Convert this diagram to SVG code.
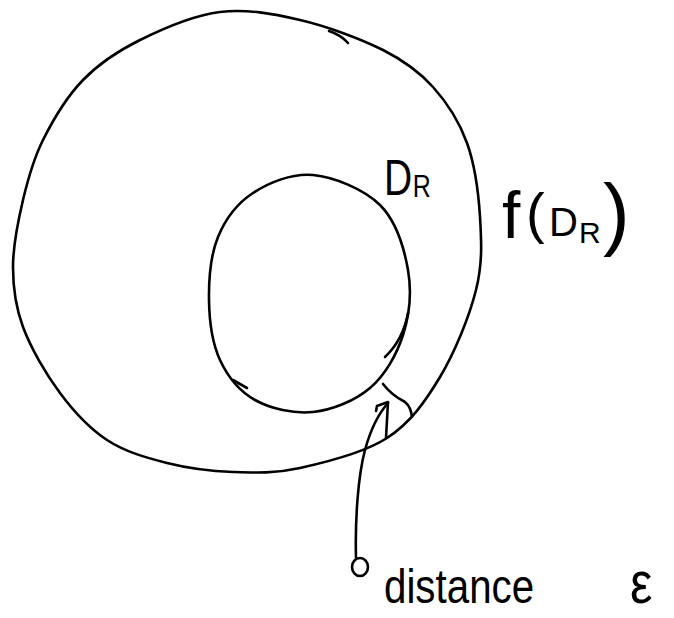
<svg xmlns="http://www.w3.org/2000/svg" width="674" height="618" viewBox="0 0 674 618">
<style>
.ln{fill:none;stroke:#000;stroke-width:2.6;stroke-linecap:round;stroke-linejoin:round}
.lbl{font-family:"Liberation Sans","DejaVu Sans",sans-serif;fill:#000}
</style>
<rect width="674" height="618" fill="#fff"/>
<g id="outer-region">
<path class="ln" d="M220,12 C246.7,8.7 272.8,13.7 300,20 C327.2,26.3 360.8,38.8 383,50 C405.2,61.2 419,71.5 433,87 C447,102.5 459.2,121.3 467,143 C474.8,164.7 478.5,192.5 480,217 C481.5,241.5 482.7,263.3 476,290 C469.3,316.7 454.8,352.3 440,377 C425.2,401.7 410.3,422.8 387,438 C363.7,453.2 325.7,462.3 300,468 C274.3,473.7 255.2,472.8 233,472 C210.8,471.2 188,468.3 167,463 C146,457.7 124.8,451.7 107,440 C89.2,428.3 74,411.8 60,393 C46,374.2 30.8,348 23,327 C15.2,306 13,288.2 13,267 C13,245.8 18,221.2 23,200 C28,178.8 33,160 43,140 C53,120 66.8,96.7 83,80 C99.2,63.3 117.2,51.3 140,40 C162.8,28.7 193.3,15.3 220,12 Z"/>
<path class="ln" d="M329,31 Q341,35 348,43"/>
</g>
<g id="inner-region">
<path class="ln" d="M313,175 C334.2,177 364.2,189.2 380,205 C395.8,220.8 404.2,248.3 408,270 C411.8,291.7 409.3,315.3 403,335 C396.7,354.7 385,375.2 370,388 C355,400.8 332.2,410 313,412 C293.8,414 270.5,408.7 255,400 C239.5,391.3 227.7,376.7 220,360 C212.3,343.3 209.3,320.5 209,300 C208.7,279.5 210.7,254.8 218,237 C225.3,219.2 237.2,203.3 253,193 C268.8,182.7 291.8,173 313,175 Z"/>
<path class="ln" d="M408,313 Q403,340 385,357"/>
<path class="ln" d="M233,380 L247,388"/>
</g>
<g id="connectors">
<path class="ln" d="M383,384 C390,393 397,398 405,402 C410,406 411,411 412,417"/>
<path class="ln" d="M356,558 C355,520 358,476 365,450 C371,428 380,412 388,403"/>
<path class="ln" d="M376,411 L377,406 L388,402 L386,438"/>
<ellipse class="ln" cx="360" cy="567" rx="8" ry="9"/>
</g>
<g id="label-DR">
<text class="lbl" transform="translate(384,195) scale(0.78,1)" font-size="50">D<tspan x="37" y="2" font-size="32">R</tspan></text>
</g>
<g id="label-fDR">
<text class="lbl" y="238" font-size="40"><tspan x="502" font-size="66">f</tspan><tspan x="526" y="232" font-size="56">(</tspan><tspan x="549" y="236" font-size="40">D</tspan><tspan x="579" y="243" font-size="30">R</tspan><tspan x="603" y="240" font-size="80">)</tspan></text>
</g>
<g id="label-distance">
<text class="lbl" transform="translate(384,603) scale(0.84,1)" font-size="48">distance <tspan x="293" font-size="60">ε</tspan></text>
</g>
</svg>
